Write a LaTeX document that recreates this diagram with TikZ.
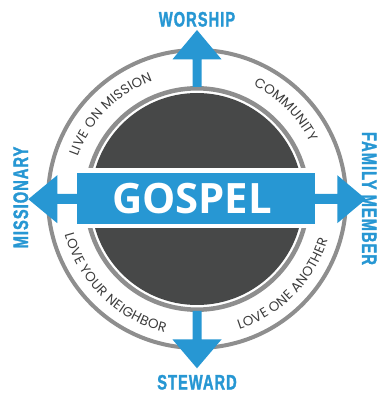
\documentclass[tikz,border=0pt]{standalone}
\usepackage{fontspec}
\usetikzlibrary{decorations.text}
\definecolor{brandblue}{RGB}{39,151,211}
\definecolor{ringgray}{RGB}{142,142,142}
\definecolor{diskgray}{RGB}{71,72,72}
\definecolor{ringtext}{RGB}{60,60,60}
\newfontfamily\labelfont{Liberation Sans}[FakeStretch=0.7,LetterSpace=5,FakeBold=1.5]
\newfontfamily\gospelfont{Open Sans}
\newfontfamily\ringfont{Poppins}
\newcommand{\ringfmt}{\color{ringtext}\ringfont\fontsize{13.5}{13.5}\selectfont}
\begin{document}
\begin{tikzpicture}[x=1bp,y=1bp,
  ringline/.style={draw=ringgray,line width=4bp},
  bluefill/.style={fill=brandblue,draw=none},
  bigword/.style={text=brandblue,font=\labelfont\bfseries\fontsize{21}{21}\selectfont,inner sep=0pt},
  ringtextpath/.style={decorate,decoration={text along path,text={|\ringfmt|#1},text align=fit to path}}
]
\useasboundingbox (0,0) rectangle (380,394);
\coordinate (C) at (197,195);
% rings and disk
\draw[ringline] (C) circle[radius=149];
\draw[draw=ringgray,line width=4.5bp] (C) circle[radius=110.7];
\fill[diskgray] (C) circle[radius=106];
% ring texts
\begin{scope}[shift={(197,195)}]
\path[ringtextpath={LIVE ON MISSION}] (160.5:126.5) arc[start angle=160.5,end angle=110.5,radius=126.5];
\path[ringtextpath={COMMUNITY}] (63.5:126.5) arc[start angle=63.5,end angle=27.5,radius=126.5];
\path[ringtextpath={LOVE YOUR NEIGHBOR}] (195:137) arc[start angle=195,end angle=256.5,radius=137];
\path[ringtextpath={LOVE ONE ANOTHER}] (288:137) arc[start angle=288,end angle=342.5,radius=137];
\end{scope}
% vertical arrows
\fill[bluefill] (192.5,307) -- (192.5,334.7) -- (172.5,334.7) -- (197,364) -- (221.5,334.7) -- (201.5,334.7) -- (201.5,307) -- cycle;
\fill[bluefill] (192.5,83) -- (192.5,54.5) -- (172.5,54.5) -- (197,25.7) -- (221.5,54.5) -- (201.5,54.5) -- (201.5,83) -- cycle;
% banner white border
\draw[white,line width=9bp] (77,170) rectangle (315,221);
% horizontal arrows
\fill[bluefill] (80,190) -- (57.3,190) -- (57.3,218.8) -- (28.3,194.8) -- (57.3,170.8) -- (57.3,200) -- (80,200) -- cycle;
\fill[bluefill] (312,190) -- (337.3,190) -- (337.3,170.8) -- (366,194.8) -- (337.3,218.8) -- (337.3,200) -- (312,200) -- cycle;
% banner
\fill[brandblue] (77,170) rectangle (315,221);
\node[text=white,font=\gospelfont\bfseries\fontsize{42}{42}\selectfont,inner sep=0pt] (gospel) at (192,195.5) {GOSPEL};
% outer labels
\node[bigword,anchor=base] (worship) at (197,367.5) {WORSHIP};
\node[bigword,anchor=base] (steward) at (197,4.5) {STEWARD};
\node[bigword,anchor=base,rotate=90] (missionary) at (28,196.5) {MISSIONARY};
\node[bigword,anchor=base,rotate=-90] (family) at (362,195.5) {FAMILY MEMBER};
\end{tikzpicture}
\end{document}
